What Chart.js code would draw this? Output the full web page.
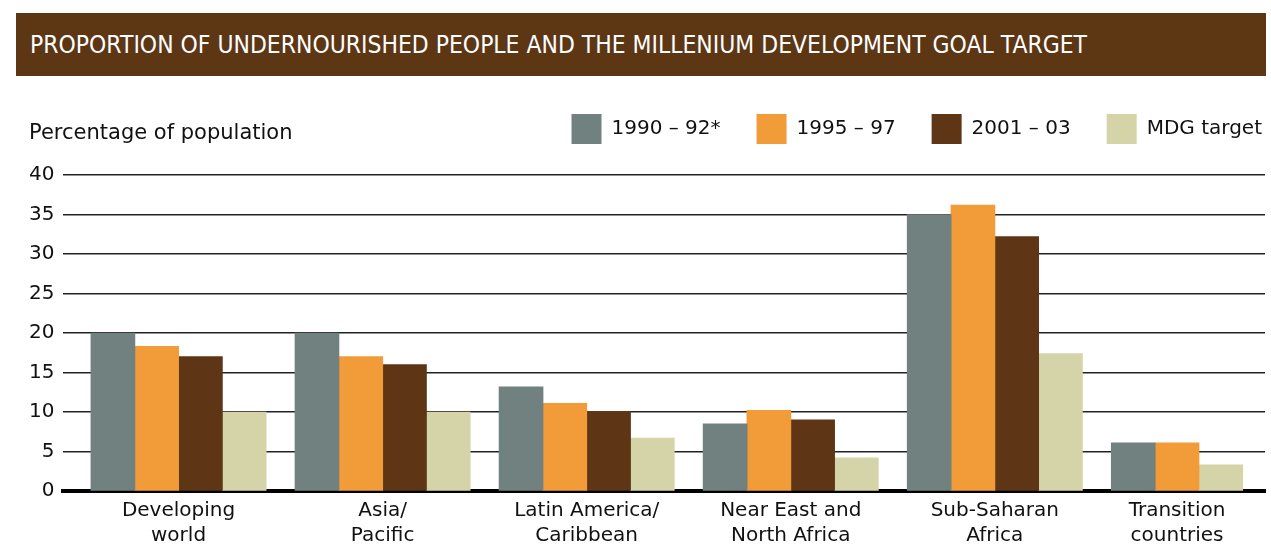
<!DOCTYPE html>
<html>
<head>
<meta charset="utf-8">
<title>Proportion of undernourished people</title>
<script src="https://cdn.jsdelivr.net/npm/chart.js@4.4.1/dist/chart.umd.min.js"></script>
<style>
  html, body { margin: 0; padding: 0; background: #fff; }
  #wrap { position: relative; width: 1271px; height: 546px; overflow: hidden; }
  #banner { position: absolute; left: 16px; top: 13px; width: 1250px; height: 63px; background: #5d3614; }
  #bannerText { position: absolute; left: 14px; top: 19.5px; color: #fff; font-family: "DejaVu Sans"; font-size: 24px; line-height: 24px; white-space: nowrap; transform-origin: 0 50%; }
  #yLabel { position: absolute; left: 29px; top: 121.5px; color: #111; font-family: "DejaVu Sans"; font-size: 21px; line-height: 21px; white-space: nowrap; }
  #chart { position: absolute; left: 0; top: 0; }
</style>
</head>
<body>
<div id="wrap">
  <canvas id="chart" width="1271" height="546"></canvas>
  <div id="banner"><span id="bannerText">PROPORTION OF UNDERNOURISHED PEOPLE AND THE MILLENIUM DEVELOPMENT GOAL TARGET</span></div>
  <div id="yLabel">Percentage of population</div>
</div>
<script>
// data
const categories = [
    ['Developing', 'world'],
    ['Asia/', 'Pacific'],
    ['Latin America/', 'Caribbean'],
    ['Near East and', 'North Africa'],
    ['Sub-Saharan', 'Africa'],
    ['Transition', 'countries']
];
const seriesNames = ['1990 – 92*', '1995 – 97', '2001 – 03', 'MDG target'];
const values1990 = [20, 20, 13.2, 8.5, 35, 6.1];
const values1995 = [18.3, 17, 11.1, 10.2, 36.2, 6.1];
const values2001 = [17, 16, 10.1, 9, 32.2, null];
const valuesTarget = [10, 10, 6.7, 4.2, 17.4, 3.3];
const yTicks = [0, 5, 10, 15, 20, 25, 30, 35, 40];

const colors = ['#71817f', '#f29b39', '#5e3515', '#d5d3a8'];
const allSeries = [values1990, values1995, values2001, valuesTarget];
const slotWidth = 0.2144;

// bars sit side by side; a missing value gives its slot to the next series
function slotX(group, s) {
    let slot = 0;
    for (let k = 0; k < s; k++) {
        if (allSeries[k][group] !== null) slot++;
    }
    return group + (slot - 1.5) * slotWidth;
}

const tickPositions = categories.map((c, g) => {
    const used = allSeries.filter(v => v[g] !== null).length;
    return g + ((used - 1) / 2 - 1.5) * slotWidth;
});

const datasets = allSeries.map((vals, s) => {
    const points = [];
    vals.forEach((v, g) => {
        if (v !== null) points.push({x: slotX(g, s), y: v});
    });
    return {
        label: seriesNames[s],
        data: points,
        backgroundColor: colors[s],
        borderWidth: 0,
        grouped: false,
        barThickness: 44,
        maxBarThickness: 44
    };
});

// room under the legend, and push it to the right edge
const legendPlace = {
    id: 'legendPlace',
    beforeInit(chart) {
        const fit = chart.legend.fit;
        chart.legend.fit = function () {
            fit.call(this);
            this.height += 21;
        };
    },
    afterLayout(chart) {
        chart.legend.left += 33;
        chart.legend.right += 33;
    }
};

const fontFamily = '"DejaVu Sans"';

const chartElement = new Chart(document.getElementById('chart'), {
    type: 'bar',
    data: { datasets: datasets },
    options: {
        responsive: false,
        animation: false,
        devicePixelRatio: 1,
        layout: { padding: { top: 78, left: 20, right: 6, bottom: -9 } },
        plugins: {
            legend: {
                position: 'top',
                align: 'end',
                labels: {
                    boxWidth: 30,
                    boxHeight: 30,
                    padding: 36,
                    color: '#111',
                    font: { family: fontFamily, size: 20 }
                }
            },
            tooltip: { enabled: false }
        },
        scales: {
            x: {
                type: 'linear',
                min: -0.564,
                max: 5.324,
                offset: false,
                bounds: 'data',
                grid: { display: false, drawTicks: false },
                border: { display: true, color: '#000', width: 4 },
                afterBuildTicks: (axis) => {
                    axis.ticks = tickPositions.map(v => ({ value: v }));
                },
                ticks: {
                    autoSkip: false,
                    maxRotation: 0,
                    minRotation: 0,
                    padding: 7,
                    color: '#111',
                    font: { family: fontFamily, size: 20, lineHeight: 1.25 },
                    callback: (value, index) => categories[index]
                }
            },
            y: {
                min: 0,
                max: 40,
                afterBuildTicks: (axis) => {
                    axis.ticks = yTicks.map(v => ({ value: v }));
                },
                grid: { color: '#222', lineWidth: 1.4, drawTicks: false },
                border: { display: false },
                ticks: {
                    padding: 9,
                    color: '#111',
                    font: { family: fontFamily, size: 20 }
                }
            }
        }
    },
    plugins: [legendPlace]
});

// squeeze the banner title to the width it has in the original
const bannerText = document.getElementById('bannerText');
const w = bannerText.getBoundingClientRect().width;
bannerText.style.transform = 'scaleX(' + (1057 / w) + ')';
</script>
</body>
</html>
